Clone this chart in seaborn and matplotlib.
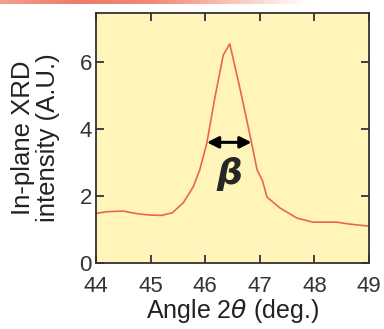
import numpy as np
import pandas as pd
import matplotlib
matplotlib.use("Agg")
import matplotlib.pyplot as plt
import seaborn as sns
from matplotlib.colors import LinearSegmentedColormap

# In-plane XRD scan around the main reflection
angle = [44.0, 44.2, 44.5, 44.65, 44.8, 45.0, 45.2, 45.4, 45.6, 45.78, 45.9,
         46.03, 46.18, 46.33, 46.45, 46.67, 46.85, 46.95, 47.05, 47.13, 47.37,
         47.68, 47.97, 48.4, 48.65, 49.0]
intensity = [1.48, 1.53, 1.55, 1.50, 1.46, 1.43, 1.42, 1.50, 1.80, 2.27, 2.78,
             3.58, 4.96, 6.20, 6.54, 4.96, 3.58, 2.78, 2.45, 1.97, 1.64,
             1.34, 1.22, 1.22, 1.16, 1.10]

# Peak width marker (beta)
width_left, width_right, width_level = 46.03, 46.85, 3.6

x_ticks = [44, 45, 46, 47, 48, 49]
y_ticks = [0, 2, 4, 6]

sns.set_theme(style="ticks")
plt.rcParams["font.family"] = ["Liberation Sans", "DejaVu Sans"]
plt.rcParams["mathtext.fontset"] = "dejavusans"

df = pd.DataFrame({"angle": angle, "intensity": intensity})

fig = plt.figure(figsize=(3.84, 3.29), dpi=100)
fig.patch.set_facecolor("white")

# thin header band across the top
band = fig.add_axes([0, 1 - 4 / 329, 1, 4 / 329])
grad = np.linspace(0, 1, 256)[None, :]
band_cmap = LinearSegmentedColormap.from_list(
    "band", ["#f4a090", "#ee7a68", "#f08a78", "#f8c4b8", "#ffffff", "#ffffff"])
band.imshow(grad, aspect="auto", cmap=band_cmap, extent=[0, 1, 0, 1])
band.set_axis_off()

ax = fig.add_axes([0.25, 0.2006, 0.711, 0.76])
ax.set_facecolor("#fff5bb")

sns.lineplot(data=df, x="angle", y="intensity", ax=ax, color="#e8674a",
             linewidth=1.2, sort=False)

ax.annotate("", xy=(width_left, width_level), xytext=(width_right, width_level),
            arrowprops=dict(arrowstyle="<|-|>", color="black", lw=2.2,
                            mutation_scale=17, shrinkA=0, shrinkB=0))
ax.text((width_left + width_right) / 2, 2.65, r"$\boldsymbol{\beta}$",
        ha="center", va="center", fontsize=26)

ax.set_xlim(44, 49)
ax.set_ylim(0, 7.46)
ax.set_xticks(x_ticks)
ax.set_yticks(y_ticks)
ax.tick_params(direction="in", length=6, width=1.3, color="#333333",
               labelsize=16, top=True, right=True, labelcolor="#333333")
ax.tick_params(axis="x", pad=9)
ax.tick_params(axis="y", pad=3)
for s in ax.spines.values():
    s.set_color("#333333")
    s.set_linewidth(1.3)

ax.set_xlabel(r"Angle 2$\theta$ (deg.)", fontsize=18, color="#222222", labelpad=0)
ax.set_ylabel("In-plane XRD\nintensity (A.U.)", fontsize=18.5, color="#222222",
              labelpad=14, linespacing=1.05)

fig.savefig("out.png", dpi=100)
